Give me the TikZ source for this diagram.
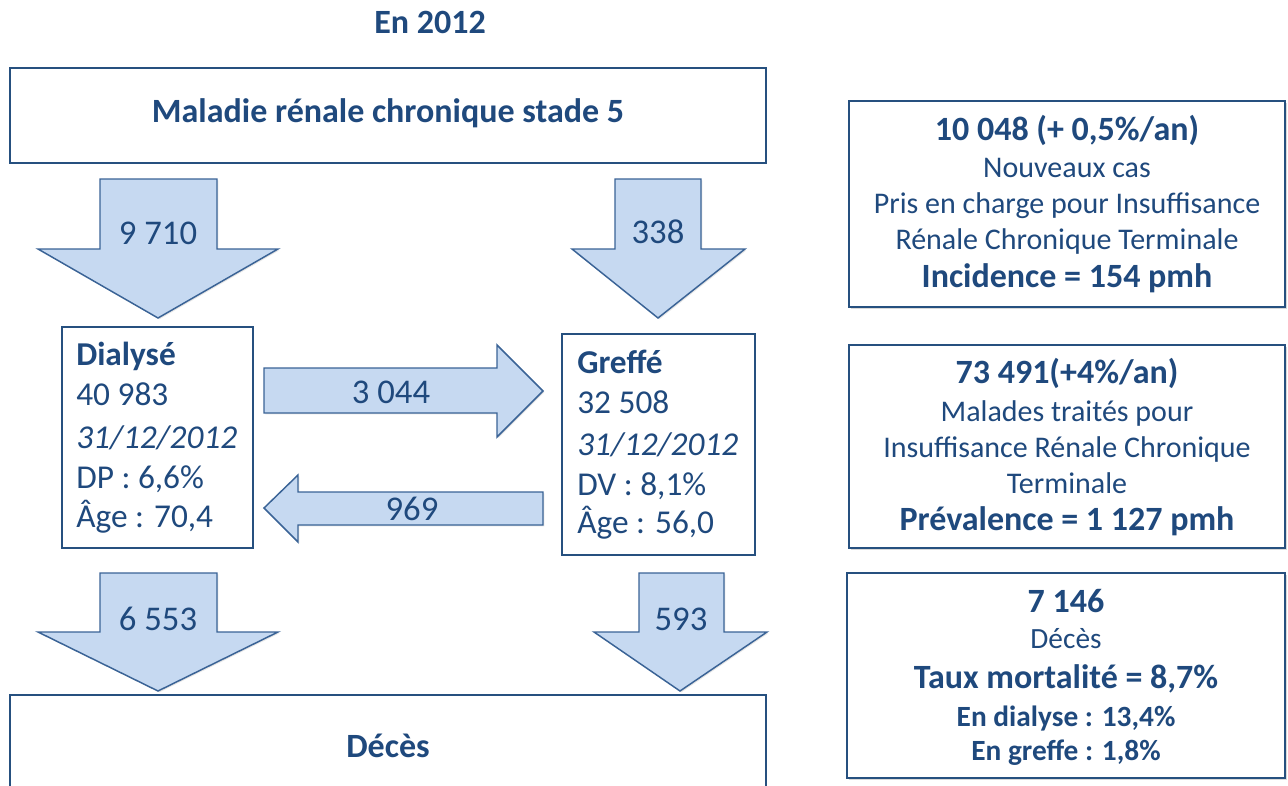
\documentclass[tikz,border=0pt]{standalone}
\usepackage{fontspec}
\setmainfont{Carlito}
\usetikzlibrary{
  positioning,
  fit,
  shadows
}
\definecolor{ink}{HTML}{1F497D}
\definecolor{frame}{HTML}{26507F}
\definecolor{flowfill}{HTML}{C6D9F1}
\definecolor{flowline}{HTML}{3A6396}

\begin{document}
\begin{tikzpicture}[x=0.75pt, y=-0.75pt,
  box/.style={draw=frame, line width=2.2pt, fill=white, inner sep=0pt},
  infobox/.style={box, drop shadow={shadow xshift=1.5pt, shadow yshift=-1.5pt, opacity=0.3}},
  flow/.style={draw=flowline, fill=flowfill, line width=1.1pt, line join=miter,
    drop shadow={shadow xshift=1pt, shadow yshift=-1pt, opacity=0.2}},
  num/.style={text=ink, font=\fontsize{26}{30}\selectfont, inner sep=0pt},
  ln/.style={text=ink, font=\fontsize{25}{29}\selectfont, anchor=base west, inner sep=0pt},
  cl/.style={text=ink, font=\fontsize{22.5}{26}\selectfont, anchor=base, inner sep=0pt},
  clb/.style={cl, font=\fontsize{25.5}{29}\selectfont\bfseries},
  hd/.style={text=ink, font=\fontsize{25.5}{29}\selectfont\bfseries, inner sep=0pt}
]
  \useasboundingbox (0,0) rectangle (1288,785);

  \node[hd] (titre) at (430,22) {En 2012};

  % Left part
  \node[box, fit={(10,68) (766,163)}] (mrc) {};
  \node[hd] (mrclbl) at (388,113) {Maladie rénale chronique stade 5};

  \node[box, fit={(62,327) (253,548)}] (dial) {};
  \node[ln, font=\fontsize{25}{29}\selectfont\bfseries] (d1) at (76,365) {Dialysé};
  \node[ln] (d2) at (76,405) {40 983};
  \node[ln, font=\fontsize{25}{29}\selectfont\itshape] (d3) at (76,448) {31/12/2012};
  \node[ln] (d4) at (76,488) {DP : 6,6\%};
  \node[ln] (d5) at (76,527) {Âge : 70,4};

  \node[box, fit={(562,334) (755,555)}] (greffe) {};
  \node[ln, font=\fontsize{25}{29}\selectfont\bfseries] (g1) at (577,373) {Greffé};
  \node[ln] (g2) at (577,413) {32 508};
  \node[ln, font=\fontsize{25}{29}\selectfont\itshape] (g3) at (577,455) {31/12/2012};
  \node[ln] (g4) at (577,495) {DV : 8,1\%};
  \node[ln] (g5) at (577,533) {Âge : 56,0};

  \node[box, fit={(10,695) (766,797)}] (deces) {};
  \node[hd] (deceslbl) at (388,746) {Décès};

  % Flows
  \draw[flow] (100,179) -- (217,179) -- (217,249) -- (278,249) -- (158,318) -- (38,249) -- (100,249) -- cycle;
  \node[num] (f1) at (158,233) {9 710};
  \draw[flow] (615,179) -- (701,179) -- (701,249) -- (745,249) -- (658,318) -- (572,249) -- (615,249) -- cycle;
  \node[num] (f2) at (658,232) {338};
  \draw[flow] (264,368) -- (497,368) -- (497,345) -- (543,391) -- (497,437) -- (497,413) -- (264,413) -- cycle;
  \node[num] (f3) at (391,392) {3 044};
  \draw[flow] (543,492) -- (298,492) -- (298,475) -- (264,508) -- (298,542) -- (298,525) -- (543,525) -- cycle;
  \node[num] (f4) at (412,509) {969};
  \draw[flow] (100,573) -- (217,573) -- (217,632) -- (278,632) -- (158,691) -- (38,632) -- (100,632) -- cycle;
  \node[num] (f5) at (158,619) {6 553};
  \draw[flow] (639,573) -- (724,573) -- (724,632) -- (767,632) -- (680,691) -- (594,632) -- (639,632) -- cycle;
  \node[num] (f6) at (681,619) {593};

  % Right part
  \node[infobox, fit={(849,101) (1285,307)}] (incid) {};
  \node[clb] (i1) at (1067,140) {10 048 (+ 0,5\%/an)};
  \node[cl] (i2) at (1067,177) {Nouveaux cas};
  \node[cl] (i3) at (1067,213) {Pris en charge pour Insuffisance};
  \node[cl] (i4) at (1067,249) {Rénale Chronique Terminale};
  \node[clb] (i5) at (1067,287) {Incidence = 154 pmh};

  \node[infobox, fit={(849,345) (1285,548)}] (preval) {};
  \node[clb] (p1) at (1067,383) {73 491(+4\%/an)};
  \node[cl] (p2) at (1067,421) {Malades traités pour};
  \node[cl] (p3) at (1067,457) {Insuffisance Rénale Chronique};
  \node[cl] (p4) at (1067,493) {Terminale};
  \node[clb] (p5) at (1067,530) {Prévalence = 1 127 pmh};

  \node[infobox, fit={(847,573) (1285,778)}] (mort) {};
  \node[clb] (m1) at (1066,612) {7 146};
  \node[cl, font=\fontsize{22}{26}\selectfont] (m2) at (1066,648) {Décès};
  \node[clb] (m3) at (1066,688) {Taux mortalité = 8,7\%};
  \node[cl, font=\fontsize{22}{26}\selectfont\bfseries] (m4) at (1066,726) {En dialyse : 13,4\%};
  \node[cl, font=\fontsize{22}{26}\selectfont\bfseries] (m5) at (1066,760) {En greffe : 1,8\%};
\end{tikzpicture}
\end{document}
